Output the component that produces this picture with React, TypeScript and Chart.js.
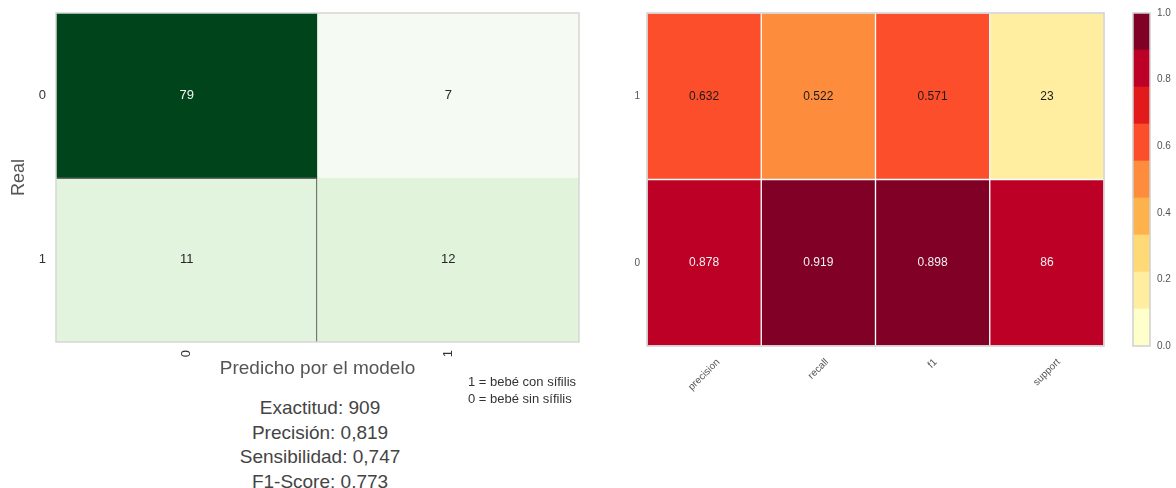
import React, { useEffect, useRef } from "react";
import { Chart, registerables } from "chart.js";

Chart.register(...registerables);

// ---------- data ----------
const cmCols = ["0", "1"];
const cmRows = ["0", "1"];
const cmRow0 = [79, 7];
const cmRow1 = [11, 12];

const crCols = ["precision", "recall", "f1", "support"];
const crRows = ["1", "0"];
const crRow1 = [0.632, 0.522, 0.571, 23];
const crRow0 = [0.878, 0.919, 0.898, 86];

const colorbarTicks = [0, 0.2, 0.4, 0.6, 0.8, 1.0];

const metricLines = [
  "Exactitud: 909",
  "Precisión: 0,819",
  "Sensibilidad: 0,747",
  "F1-Score: 0,773",
];
const noteLines = ["1 = bebé con sífilis", "0 = bebé sin sífilis"];

// ---------- styles ----------
const FONT = '"Liberation Sans", Arial, Helvetica, sans-serif';
const YLORRD = [
  "#ffffcc",
  "#ffeda0",
  "#fed976",
  "#feb24c",
  "#fd8d3c",
  "#fc4e2a",
  "#e31a1c",
  "#bd0026",
  "#800026",
];
const cmCellColors = [
  ["#00441b", "#f5fbf2"],
  ["#e3f4de", "#e2f3dc"],
];
const cmTextColors = [
  ["#f2f2f2", "#262626"],
  ["#262626", "#262626"],
];

function binColor(v: number) {
  const i = Math.min(YLORRD.length - 1, Math.floor(v * YLORRD.length));
  return YLORRD[i];
}

function makeFrame(color: string, width: number) {
  return {
    id: "frame",
    afterDatasetsDraw(chart: any) {
      const { ctx, chartArea: a } = chart;
      ctx.save();
      ctx.strokeStyle = color;
      ctx.lineWidth = width;
      ctx.strokeRect(a.left, a.top, a.right - a.left, a.bottom - a.top);
      ctx.restore();
    },
  };
}

function makeCellLabels(texts: string[][], colors: string[][], font: string) {
  return {
    id: "cellLabels",
    afterDatasetsDraw(chart: any) {
      const { ctx } = chart;
      ctx.save();
      ctx.font = font;
      ctx.textAlign = "center";
      ctx.textBaseline = "middle";
      chart.data.datasets.forEach((_ds: any, di: number) => {
        const meta = chart.getDatasetMeta(di);
        meta.data.forEach((el: any, i: number) => {
          const p = el.getProps(["x", "y", "base"], true);
          ctx.fillStyle = colors[di][i];
          ctx.fillText(texts[di][i], p.x, (p.y + p.base) / 2);
        });
      });
      ctx.restore();
    },
  };
}

function midTicks(labels: string[]) {
  return (scale: any) => {
    scale.ticks = labels.map((_l, i) => ({ value: i + 0.5 }));
  };
}

export default function App() {
  const leftRef = useRef<HTMLCanvasElement>(null);
  const rightRef = useRef<HTMLCanvasElement>(null);
  const barRef = useRef<HTMLCanvasElement>(null);

  useEffect(() => {
    const charts: Chart[] = [];
    const cmValues = [cmRow0, cmRow1];

    // ---------- confusion matrix ----------
    charts.push(
      new Chart(leftRef.current!, {
        type: "bar",
        data: {
          labels: cmCols,
          datasets: cmValues.map((row, r) => ({
            data: row.map(() => [r, r + 1]) as any,
            backgroundColor: cmCellColors[r],
            borderColor: "#3a3a3a",
            borderWidth:
              r === 1
                ? ([
                    { top: 1.5, right: 1.5, bottom: 0, left: 0 },
                    { top: 0, right: 0, bottom: 0, left: 0 },
                  ] as any)
                : 0,
            borderSkipped: false,
            grouped: false,
            barPercentage: 1,
            categoryPercentage: 1,
          })),
        },
        options: {
          animation: false,
          responsive: false,
          layout: { padding: { top: 13, right: 21, left: 0, bottom: 0 } },
          plugins: { legend: { display: false }, tooltip: { enabled: false } },
          scales: {
            x: {
              type: "category",
              grid: { display: false, drawTicks: false },
              border: { display: false },
              ticks: {
                minRotation: 90,
                maxRotation: 90,
                padding: 8,
                color: "#333",
                font: { family: FONT, size: 13 },
              },
              title: {
                display: true,
                text: "Predicho por el modelo",
                color: "#555",
                font: { family: FONT, size: 19 },
                padding: { top: 0, bottom: 10 },
              },
              afterFit: (s: any) => {
                s.height = 48;
              },
            },
            y: {
              type: "linear",
              min: 0,
              max: 2,
              reverse: true,
              afterBuildTicks: midTicks(cmRows),
              grid: { display: false, drawTicks: true, tickLength: 8 },
              border: { display: false },
              ticks: {
                padding: 2,
                color: "#333",
                font: { family: FONT, size: 13 },
                callback: (_v: any, i: number) => cmRows[i],
              },
              title: {
                display: true,
                text: "Real",
                color: "#555",
                font: { family: FONT, size: 18 },
                padding: { top: 8, bottom: 0 },
              },
              afterFit: (s: any) => {
                s.width = 56;
              },
            },
          },
        } as any,
        plugins: [
          makeFrame("#d6d6d6", 1.5),
          makeCellLabels(
            cmValues.map((row) => row.map((v) => String(v))),
            cmTextColors,
            `13px ${FONT}`
          ),
        ],
      })
    );

    // ---------- classification report ----------
    const crValues = [crRow1, crRow0];
    const supportTotal = crRow1[3] + crRow0[3];
    const norm = (v: number, c: number) =>
      crCols[c] === "support" ? v / supportTotal : v;
    const crTexts = crValues.map((row) =>
      row.map((v, c) => (crCols[c] === "support" ? String(v) : v.toFixed(3)))
    );
    const crTextColors = crValues.map((row) =>
      row.map((v, c) => (norm(v, c) > 0.7 ? "#f2f2f2" : "#1a1a1a"))
    );

    const rotatedLabels = {
      id: "rotLabels",
      afterDraw(chart: any) {
        const { ctx } = chart;
        const xs = chart.scales.x;
        const top = chart.chartArea.bottom + 11;
        ctx.save();
        ctx.font = `10px ${FONT}`;
        ctx.fillStyle = "#555";
        ctx.textAlign = "center";
        ctx.textBaseline = "middle";
        crCols.forEach((lab, i) => {
          const x = xs.getPixelForValue(i);
          const w = ctx.measureText(lab).width;
          const bh = (w + 10) * Math.SQRT1_2;
          ctx.save();
          ctx.translate(x, top + bh / 2);
          ctx.rotate(-Math.PI / 4);
          ctx.fillText(lab, 0, 0);
          ctx.restore();
        });
        ctx.restore();
      },
    };

    charts.push(
      new Chart(rightRef.current!, {
        type: "bar",
        data: {
          labels: crCols,
          datasets: crValues.map((row, r) => ({
            data: row.map(() => [r, r + 1]) as any,
            backgroundColor: row.map((v, c) => binColor(norm(v, c))),
            borderColor: "#ffffff",
            borderWidth: 1,
            borderSkipped: false,
            grouped: false,
            barPercentage: 1,
            categoryPercentage: 1,
          })),
        },
        options: {
          animation: false,
          responsive: false,
          layout: { padding: { top: 13, right: 16, left: 0, bottom: 0 } },
          plugins: { legend: { display: false }, tooltip: { enabled: false } },
          scales: {
            x: {
              type: "category",
              grid: { display: false, drawTicks: false },
              border: { display: false },
              ticks: { display: false },
              afterFit: (s: any) => {
                s.height = 54;
              },
            },
            y: {
              type: "linear",
              min: 0,
              max: 2,
              reverse: true,
              afterBuildTicks: midTicks(crRows),
              grid: { display: false, drawTicks: false },
              border: { display: false },
              ticks: {
                padding: 7,
                color: "#555",
                font: { family: FONT, size: 10 },
                callback: (_v: any, i: number) => crRows[i],
              },
              afterFit: (s: any) => {
                s.width = 47;
              },
            },
          },
        } as any,
        plugins: [
          makeFrame("#d0d0d0", 1.5),
          makeCellLabels(crTexts, crTextColors, `12px ${FONT}`),
          rotatedLabels,
        ],
      })
    );

    // ---------- colorbar ----------
    charts.push(
      new Chart(barRef.current!, {
        type: "bar",
        data: {
          labels: [""],
          datasets: YLORRD.map((col, i) => ({
            data: [[i / YLORRD.length, (i + 1) / YLORRD.length]] as any,
            backgroundColor: col,
            borderWidth: 0,
            grouped: false,
            barPercentage: 1,
            categoryPercentage: 1,
          })),
        },
        options: {
          animation: false,
          responsive: false,
          layout: { padding: { top: 13, right: 0, left: 13, bottom: 54 } },
          plugins: { legend: { display: false }, tooltip: { enabled: false } },
          scales: {
            x: { display: false },
            y: {
              type: "linear",
              position: "right",
              min: 0,
              max: 1,
              afterBuildTicks: (s: any) => {
                s.ticks = colorbarTicks.map((v) => ({ value: v }));
              },
              grid: { display: false, drawTicks: false },
              border: { display: false },
              ticks: {
                padding: 7,
                color: "#555",
                font: { family: FONT, size: 10 },
                callback: (v: any) => Number(v).toFixed(1),
              },
              afterFit: (s: any) => {
                s.width = 26;
              },
            },
          },
        } as any,
        plugins: [makeFrame("#cfcfcf", 1.5)],
      })
    );

    return () => charts.forEach((c) => c.destroy());
  }, []);

  return (
    <div
      style={{
        position: "absolute",
        left: 0,
        top: 0,
        width: 1176,
        height: 488,
        background: "#fff",
        overflow: "hidden",
        fontFamily: FONT,
      }}
    >
      <canvas
        ref={leftRef}
        width={600}
        height={390}
        style={{ position: "absolute", left: 0, top: 0, width: 600, height: 390 }}
      />
      <canvas
        ref={rightRef}
        width={520}
        height={400}
        style={{ position: "absolute", left: 600, top: 0, width: 520, height: 400 }}
      />
      <canvas
        ref={barRef}
        width={56}
        height={400}
        style={{ position: "absolute", left: 1120, top: 0, width: 56, height: 400 }}
      />
      <div
        style={{
          position: "absolute",
          left: 170,
          top: 396,
          width: 300,
          textAlign: "center",
          fontSize: 19,
          lineHeight: "24.7px",
          color: "#444",
        }}
      >
        {metricLines.map((l) => (
          <div key={l}>{l}</div>
        ))}
      </div>
      <div
        style={{
          position: "absolute",
          left: 468,
          top: 373,
          fontSize: 13,
          lineHeight: "17px",
          color: "#333",
          whiteSpace: "nowrap",
        }}
      >
        {noteLines.map((l) => (
          <div key={l}>{l}</div>
        ))}
      </div>
    </div>
  );
}
